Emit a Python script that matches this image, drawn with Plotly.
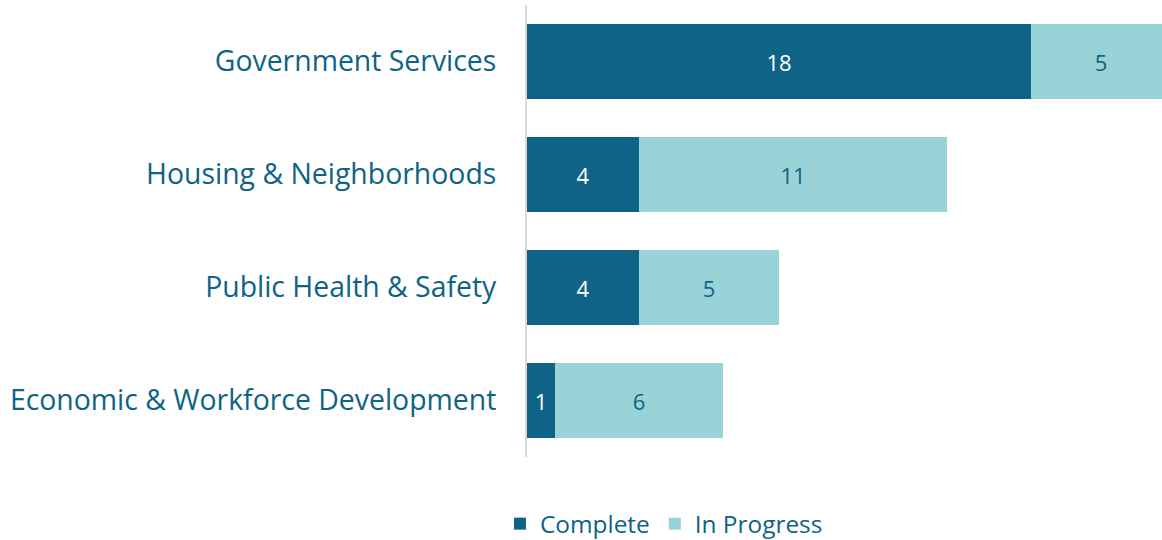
import plotly.graph_objects as go

categories = ["Government Services", "Housing & Neighborhoods", "Public Health & Safety", "Economic & Workforce Development"]
complete = [18, 4, 4, 1]
in_progress = [5, 11, 5, 6]

DARK = "#0e6386"
LIGHT = "#9ad3d7"
FONT = "Open Sans"

fig = go.Figure()
fig.add_trace(go.Bar(
    y=categories, x=complete, name="Complete", orientation="h",
    marker=dict(color=DARK, line=dict(width=0)),
    text=complete, textposition="inside", insidetextanchor="middle",
    textfont=dict(color="white", size=22, family=FONT),
))
fig.add_trace(go.Bar(
    y=categories, x=in_progress, name="In Progress", orientation="h",
    marker=dict(color=LIGHT, line=dict(width=0)),
    text=in_progress, textposition="inside", insidetextanchor="middle",
    textfont=dict(color=DARK, size=22, family=FONT),
))

fig.update_layout(
    barmode="stack",
    bargap=0.34,
    width=1162, height=540,
    margin=dict(l=527, r=0, t=5, b=83),
    plot_bgcolor="white", paper_bgcolor="white",
    font=dict(family=FONT, color=DARK, size=22),
    uniformtext=dict(mode="show", minsize=22),
    showlegend=True,
    legend=dict(orientation="h", xref="container", x=0.5714, xanchor="center",
                yref="container", y=0.03, yanchor="middle",
                font=dict(size=24.4, color=DARK, family=FONT), traceorder="normal",
                itemwidth=30),
    xaxis=dict(range=[0, 635/28], showgrid=False, zeroline=False, showticklabels=False,
               showline=False, fixedrange=True),
    yaxis=dict(categoryorder="array", categoryarray=categories[::-1], autorange=False,
               range=[-0.5, 3.5],
               showline=True, linecolor="#d9d9d9", linewidth=2, showgrid=False,
               ticks="", ticklabelstandoff=23,
               tickfont=dict(size=28.4, color=DARK, family=FONT)),
)

fig.write_html("out.html", config={"displayModeBar": False},
               post_script="document.body.style.margin='0';document.body.style.padding='0';")
